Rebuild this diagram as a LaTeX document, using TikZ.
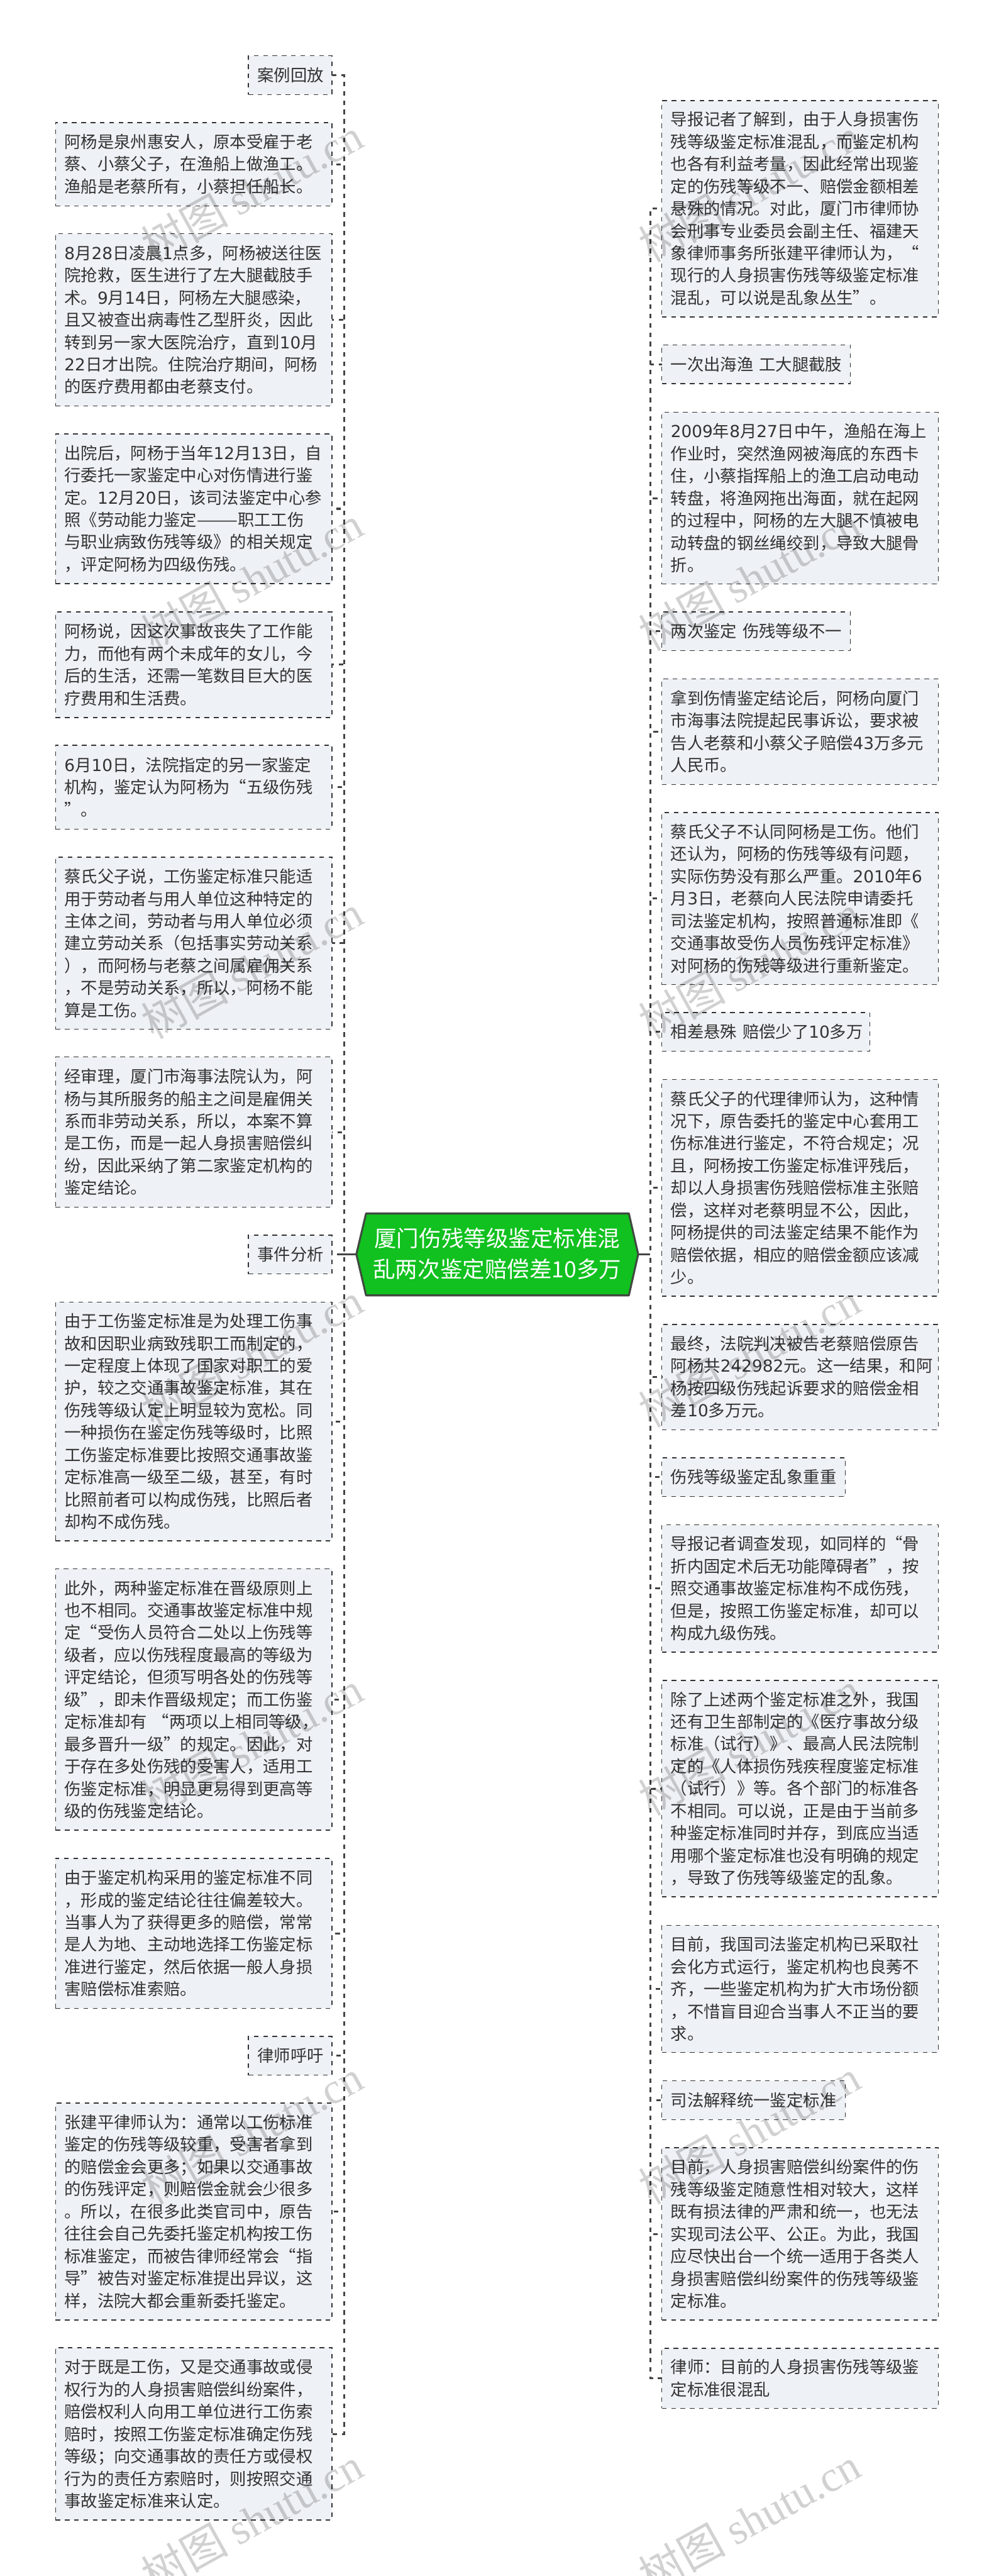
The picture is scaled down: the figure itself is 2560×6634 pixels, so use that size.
\documentclass[tikz,border=0pt]{standalone}
\usepackage{fontspec}
\setmainfont{Noto Sans CJK SC}
\newfontfamily\dgf{DejaVu Sans}
\newfontfamily\wmf{Liberation Serif}
\newcommand{\dg}[1]{{\dgf #1}}
\definecolor{leaffill}{HTML}{EEF1F5}
\definecolor{inkc}{HTML}{333333}
\definecolor{rootfill}{HTML}{11C11F}
\definecolor{rootline}{HTML}{3F4A40}
\definecolor{linec}{HTML}{444444}
\tikzset{
  leaf/.style={draw=inkc,fill=leaffill,line width=2.2pt,dash pattern=on 12pt off 12pt,
    anchor=north west,inner xsep=23pt,inner ysep=0pt,outer sep=0pt,align=left,text=inkc,
    font=\fontsize{42.67}{57.4}\selectfont},
  wide/.style={text width=666pt},
  connl/.style={draw=linec,line width=5pt,dash pattern=on 12pt off 12pt,dash phase=16.5pt},
  connr/.style={draw=linec,line width=5pt,dash pattern=on 12pt off 12pt,dash phase=14pt},
  rootlink/.style={draw=linec,line width=5pt},
  rootbox/.style={draw=rootline,fill=rootfill,line width=5pt,line join=round},
  roottext/.style={text=white,align=center,inner sep=0pt,font=\fontsize{57.6}{80}\selectfont},
  wm/.style={text=black,opacity=0.18,rotate=29,anchor=base east,inner sep=0pt,
    font=\fontsize{112}{112}\selectfont}
}
\begin{document}
\begin{tikzpicture}[x=1pt,y=-1pt]
\fill[white] (0,0) rectangle (2560,6634);
\useasboundingbox (0,0) rectangle (2560,6634);

% root
\draw[rootbox] (918,3230) -- (943,3125) -- (1620,3125) -- (1644,3230) -- (1620,3336) -- (943,3336) -- cycle;
\node[roottext] (root) at (1281,3229) {厦门伤残等级鉴定标准混\\乱两次鉴定赔偿差10多万};
\coordinate (rootW) at (918,3230);
\coordinate (rootE) at (1644,3230);
\coordinate (hubL) at (886,3230);
\coordinate (hubR) at (1675,3230);
\coordinate (hubLx) at (880,3230);

% left column
\node[leaf,text width=169pt,minimum height=100pt] (a0) at (640,143.5) {案例回放};
\node[leaf,wide,minimum height=214.4pt] (a1) at (143,315.6) {阿杨是泉州惠安人，原本受雇于老\\蔡、小蔡父子，在渔船上做渔工。\\渔船是老蔡所有，小蔡担任船长。};
\node[leaf,wide,minimum height=443.6pt] (a2) at (143,602) {\dg{8}月\dg{28}日凌晨\dg{1}点多，阿杨被送往医\\院抢救，医生进行了左大腿截肢手\\术。\dg{9}月\dg{14}日，阿杨左大腿感染，\\且又被查出病毒性乙型肝炎，因此\\转到另一家大医院治疗，直到\dg{10}月\\\dg{22}日才出院。住院治疗期间，阿杨\\的医疗费用都由老蔡支付。};
\node[leaf,wide,minimum height=385.5pt] (a3) at (143,1117.5) {出院后，阿杨于当年\dg{12}月\dg{13}日，自\\行委托一家鉴定中心对伤情进行鉴\\定。\dg{12}月\dg{20}日，该司法鉴定中心参\\照《劳动能力鉴定———职工工伤\\与职业病致伤残等级》的相关规定\\，评定阿杨为四级伤残。};
\node[leaf,wide,minimum height=272.4pt] (a4) at (143,1575.6) {阿杨说，因这次事故丧失了工作能\\力，而他有两个未成年的女儿，今\\后的生活，还需一笔数目巨大的医\\疗费用和生活费。};
\node[leaf,wide,minimum height=216pt] (a5) at (143,1919) {\dg{6}月\dg{10}日，法院指定的另一家鉴定\\机构，鉴定认为阿杨为“五级伤残\\”。};
\node[leaf,wide,minimum height=443.5pt] (a6) at (143,2207.5) {蔡氏父子说，工伤鉴定标准只能适\\用于劳动者与用人单位这种特定的\\主体之间，劳动者与用人单位必须\\建立劳动关系（包括事实劳动关系\\），而阿杨与老蔡之间属雇佣关系\\，不是劳动关系，所以，阿杨不能\\算是工伤。};
\node[leaf,wide,minimum height=387pt] (a7) at (143,2722) {经审理，厦门市海事法院认为，阿\\杨与其所服务的船主之间是雇佣关\\系而非劳动关系，所以，本案不算\\是工伤，而是一起人身损害赔偿纠\\纷，因此采纳了第二家鉴定机构的\\鉴定结论。};
\node[leaf,text width=169pt,minimum height=100pt] (a8) at (640,3181) {事件分析};
\node[leaf,wide,minimum height=615pt] (a9) at (143,3353) {由于工伤鉴定标准是为处理工伤事\\故和因职业病致残职工而制定的，\\一定程度上体现了国家对职工的爱\\护，较之交通事故鉴定标准，其在\\伤残等级认定上明显较为宽松。同\\一种损伤在鉴定伤残等级时，比照\\工伤鉴定标准要比按照交通事故鉴\\定标准高一级至二级，甚至，有时\\比照前者可以构成伤残，比照后者\\却构不成伤残。};
\node[leaf,wide,minimum height=673pt] (a10) at (143,4040) {此外，两种鉴定标准在晋级原则上\\也不相同。交通事故鉴定标准中规\\定“受伤人员符合二处以上伤残等\\级者，应以伤残程度最高的等级为\\评定结论，但须写明各处的伤残等\\级”，即未作晋级规定；而工伤鉴\\定标准却有~“两项以上相同等级，\\最多晋升一级”的规定。因此，对\\于存在多处伤残的受害人，适用工\\伤鉴定标准，明显更易得到更高等\\级的伤残鉴定结论。};
\node[leaf,wide,minimum height=386pt] (a11) at (143,4786) {由于鉴定机构采用的鉴定标准不同\\，形成的鉴定结论往往偏差较大。\\当事人为了获得更多的赔偿，常常\\是人为地、主动地选择工伤鉴定标\\准进行鉴定，然后依据一般人身损\\害赔偿标准索赔。};
\node[leaf,text width=169pt,minimum height=100pt] (a12) at (640,5244) {律师呼吁};
\node[leaf,wide,minimum height=559pt] (a13) at (143,5416) {张建平律师认为：通常以工伤标准\\鉴定的伤残等级较重，受害者拿到\\的赔偿金会更多；如果以交通事故\\的伤残评定，则赔偿金就会少很多\\。所以，在很多此类官司中，原告\\往往会自己先委托鉴定机构按工伤\\标准鉴定，而被告律师经常会“指\\导”被告对鉴定标准提出异议，这\\样，法院大都会重新委托鉴定。};
\node[leaf,wide,minimum height=444pt] (a14) at (143,6046) {对于既是工伤，又是交通事故或侵\\权行为的人身损害赔偿纠纷案件，\\赔偿权利人向用工单位进行工伤索\\赔时，按照工伤鉴定标准确定伤残\\等级；向交通事故的责任方或侵权\\行为的责任方索赔时，则按照交通\\事故鉴定标准来认定。};

% right column
\node[leaf,wide,minimum height=557pt] (b1) at (1705,259) {导报记者了解到，由于人身损害伤\\残等级鉴定标准混乱，而鉴定机构\\也各有利益考量，因此经常出现鉴\\定的伤残等级不一、赔偿金额相差\\悬殊的情况。对此，厦门市律师协\\会刑事专业委员会副主任、福建天\\象律师事务所张建平律师认为，“\\现行的人身损害伤残等级鉴定标准\\混乱，可以说是乱象丛生”。};
\node[leaf,text width=440pt,minimum height=100pt] (b2) at (1705,888) {一次出海渔~工大腿截肢};
\node[leaf,wide,minimum height=442.4pt] (b3) at (1705,1061.6) {\dg{2009}年\dg{8}月\dg{27}日中午，渔船在海上\\作业时，突然渔网被海底的东西卡\\住，小蔡指挥船上的渔工启动电动\\转盘，将渔网拖出海面，就在起网\\的过程中，阿杨的左大腿不慎被电\\动转盘的钢丝绳绞到，导致大腿骨\\折。};
\node[leaf,text width=440pt,minimum height=100pt] (b4) at (1705,1575.7) {两次鉴定~伤残等级不一};
\node[leaf,wide,minimum height=272pt] (b5) at (1705,1748) {拿到伤情鉴定结论后，阿杨向厦门\\市海事法院提起民事诉讼，要求被\\告人老蔡和小蔡父子赔偿\dg{43}万多元\\人民币。};
\node[leaf,wide,minimum height=443pt] (b6) at (1705,2092.7) {蔡氏父子不认同阿杨是工伤。他们\\还认为，阿杨的伤残等级有问题，\\实际伤势没有那么严重。\dg{2010}年\dg{6}\\月\dg{3}日，老蔡向人民法院申请委托\\司法鉴定机构，按照普通标准即《\\交通事故受伤人员伤残评定标准》\\对阿杨的伤残等级进行重新鉴定。};
\node[leaf,text width=490pt,minimum height=100pt] (b7) at (1705,2607.6) {相差悬殊~赔偿少了\dg{10}多万};
\node[leaf,wide,minimum height=558pt] (b8) at (1705,2780) {蔡氏父子的代理律师认为，这种情\\况下，原告委托的鉴定中心套用工\\伤标准进行鉴定，不符合规定；况\\且，阿杨按工伤鉴定标准评残后，\\却以人身损害伤残赔偿标准主张赔\\偿，这样对老蔡明显不公，因此，\\阿杨提供的司法鉴定结果不能作为\\赔偿依据，相应的赔偿金额应该减\\少。};
\node[leaf,wide,minimum height=271pt] (b9) at (1705,3410.7) {最终，法院判决被告老蔡赔偿原告\\阿杨共\dg{242982}元。这一结果，和阿\\杨按四级伤残起诉要求的赔偿金相\\差\dg{10}多万元。};
\node[leaf,text width=427pt,minimum height=100pt] (b10) at (1705,3754) {伤残等级鉴定乱象重重};
\node[leaf,wide,minimum height=327.6pt] (b11) at (1705,3927) {导报记者调查发现，如同样的“骨\\折内固定术后无功能障碍者”，按\\照交通事故鉴定标准构不成伤残，\\但是，按照工伤鉴定标准，却可以\\构成九级伤残。};
\node[leaf,wide,minimum height=557.5pt] (b12) at (1705,4327.5) {除了上述两个鉴定标准之外，我国\\还有卫生部制定的《医疗事故分级\\标准（试行）》、最高人民法院制\\定的《人体损伤残疾程度鉴定标准\\（试行）》等。各个部门的标准各\\不相同。可以说，正是由于当前多\\种鉴定标准同时并存，到底应当适\\用哪个鉴定标准也没有明确的规定\\，导致了伤残等级鉴定的乱象。};
\node[leaf,wide,minimum height=328pt] (b13) at (1705,4958) {目前，我国司法鉴定机构已采取社\\会化方式运行，鉴定机构也良莠不\\齐，一些鉴定机构为扩大市场份额\\，不惜盲目迎合当事人不正当的要\\求。};
\node[leaf,text width=427pt,minimum height=100pt] (b14) at (1705,5358.5) {司法解释统一鉴定标准};
\node[leaf,wide,minimum height=444pt] (b15) at (1705,5531) {目前，人身损害赔偿纠纷案件的伤\\残等级鉴定随意性相对较大，这样\\既有损法律的严肃和统一，也无法\\实现司法公平、公正。为此，我国\\应尽快出台一个统一适用于各类人\\身损害赔偿纠纷案件的伤残等级鉴\\定标准。};
\node[leaf,wide,minimum height=154.4pt] (b16) at (1705,6047.6) {律师：目前的人身损害伤残等级鉴\\定标准很混乱};

% connectors
\draw[rootlink] (rootW) -- (hubLx);
\draw[rootlink] (rootE) -- (hubR);
\foreach \n in {a0,a1,a2,a3,a4,a5,a6,a7,a8,a9,a10,a11,a12,a13,a14}
  \draw[connl] (hubL) |- (\n.east);
\foreach \n in {b1,b2,b3,b4,b5,b6,b7,b8,b9,b10,b11,b12,b13,b14,b15,b16}
  \draw[connr] (hubR) |- (\n.west);

% watermark
\foreach \k [count=\i] in {375,1375,2375,3375,4375,5375,6375} {
  \node[wm] (wl\i) at (944,\k) {树图 {\wmf shutu.cn}};
  \node[wm] (wr\i) at (2225,\k) {树图 {\wmf shutu.cn}};
}
\end{tikzpicture}
\end{document}
